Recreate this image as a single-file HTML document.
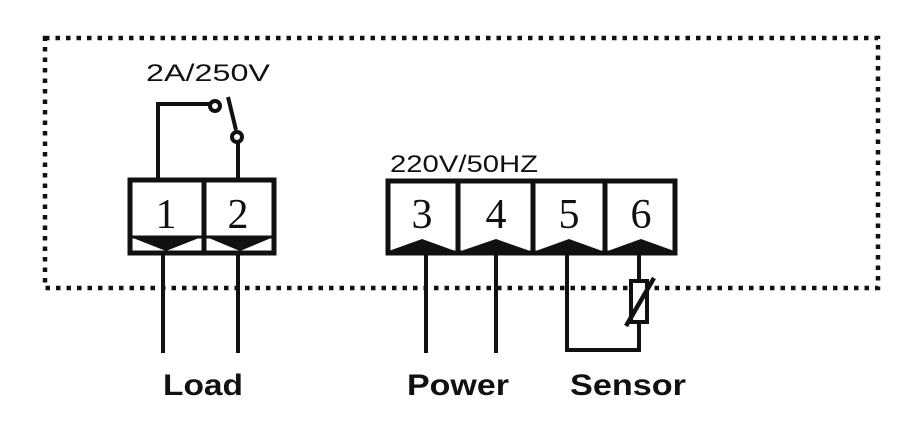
<!DOCTYPE html>
<html><head><style>
html,body{margin:0;padding:0;background:#fff;}
svg{display:block;}
</style></head><body>
<svg width="923" height="434" viewBox="0 0 923 434" xmlns="http://www.w3.org/2000/svg">
<rect x="45" y="38" width="833" height="250" fill="none" stroke="#111" stroke-width="4.5" stroke-dasharray="4.5 6"/>
<g stroke="#111" stroke-width="4" fill="none">
<polyline points="158,180 158,104 210,104"/>
<circle cx="215" cy="106" r="5" fill="#fff"/>
<line x1="228" y1="97" x2="236" y2="130"/>
<circle cx="237" cy="137" r="5" fill="#fff"/>
<line x1="238" y1="142" x2="238" y2="180"/>
<line x1="163" y1="255" x2="163" y2="353"/>
<line x1="238" y1="255" x2="238" y2="353"/>
<line x1="426" y1="255" x2="426" y2="353"/>
<line x1="496" y1="255" x2="496" y2="353"/>
<polyline points="567,255 567,350 639,350 639,322"/>
<line x1="639" y1="255" x2="639" y2="281"/>
<rect x="631" y="281" width="16" height="41" fill="#fff"/>
</g>
<line x1="626" y1="326" x2="654" y2="278" stroke="#111" stroke-width="4.5"/>
<g fill="#111">
<polygon points="128,236 204,236 166,251"/>
<polygon points="204,236 276,236 240,251"/>
<polygon points="386,255 458,255 458,252 422,239 386,252"/>
<polygon points="458,255 533,255 533,252 496,239 458,252"/>
<polygon points="533,255 605,255 605,252 569,239 533,252"/>
<polygon points="605,255 677,255 677,252 641,239 605,252"/>
</g>
<g stroke="#111" stroke-width="5" fill="none">
<rect x="130" y="180" width="144" height="73"/>
<line x1="204" y1="180" x2="204" y2="253"/>
<line x1="130" y1="237" x2="274" y2="237" stroke-width="3"/>
<rect x="388" y="181" width="287" height="72"/>
<line x1="458" y1="181" x2="458" y2="253"/>
<line x1="533" y1="181" x2="533" y2="253"/>
<line x1="605" y1="181" x2="605" y2="253"/>
</g>
<g font-family="Liberation Serif, serif" font-size="42" fill="#111" text-anchor="middle">
<text x="166" y="228">1</text>
<text x="238" y="228">2</text>
<text x="422" y="228">3</text>
<text x="496" y="228">4</text>
<text x="569" y="228">5</text>
<text x="641" y="228">6</text>
</g>
<g font-family="Liberation Sans, sans-serif" fill="#111">
<text x="146" y="81" font-size="24" textLength="124" lengthAdjust="spacingAndGlyphs">2A/250V</text>
<text x="390" y="172" font-size="24" textLength="148" lengthAdjust="spacingAndGlyphs">220V/50HZ</text>
<text x="163" y="395" font-size="30" font-weight="bold" textLength="80" lengthAdjust="spacingAndGlyphs">Load</text>
<text x="407" y="395" font-size="30" font-weight="bold" textLength="102" lengthAdjust="spacingAndGlyphs">Power</text>
<text x="570" y="395" font-size="30" font-weight="bold" textLength="116" lengthAdjust="spacingAndGlyphs">Sensor</text>
</g>
</svg>
</body></html>
